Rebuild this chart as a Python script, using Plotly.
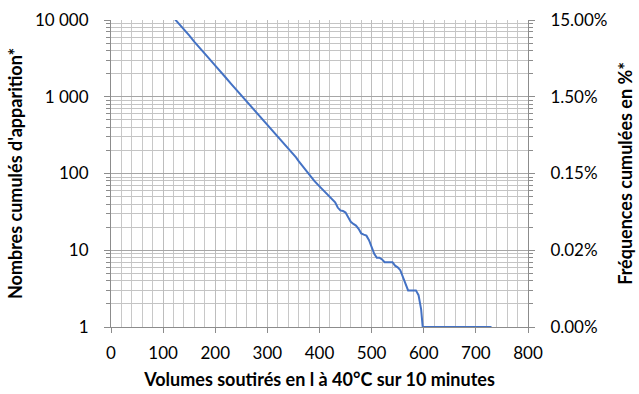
import plotly.graph_objects as go

# Cumulative occurrences vs. drawn-off volume (litres at 40°C over 10 minutes)
volumes = [110, 120, 130, 140, 150, 160, 170, 180, 190, 200, 210, 220, 230, 240,
           250, 260, 270, 280, 290, 300, 310, 320, 330, 340, 350, 355, 360, 370,
           380, 390, 400, 410, 420, 425, 430, 435, 440, 445, 450, 455, 460, 465,
           470, 475, 480, 485, 490, 495, 500, 505, 510, 515, 520, 525, 530, 535,
           540, 545, 550, 555, 560, 565, 570, 575, 580, 585, 590, 595, 598, 610,
           620, 640, 660, 680, 700, 720, 730]
occurrences = [12800, 10800, 8900, 7500, 6300, 5200, 4400, 3700, 3050, 2550, 2100,
               1780, 1480, 1240, 1040, 900, 750, 625, 520, 440, 365, 305, 255, 212,
               178, 162, 145, 118, 95, 80, 68, 58, 49, 45, 42, 36, 33, 32.5, 31,
               27, 23.5, 22, 21, 19, 16.6, 16, 15.5, 13.5, 11, 9, 8, 8, 7.6, 7, 7,
               7, 7, 6.3, 6, 5.5, 4.5, 3.5, 3, 3, 3, 3, 2.6, 1.7, 1, 1, 1, 1, 1, 1,
               1, 1, 1]

# Axis labels
x_ticks = [0, 100, 200, 300, 400, 500, 600, 700, 800]
y_ticks = [1, 10, 100, 1000, 10000]
y_ticktext = ["1", "10", "100", "1 000", "10 000"]
pct_ticktext = ["0.00%", "0.02%", "0.15%", "1.50%", "15.00%"]

minor_y = [m * d for d in (1, 10, 100, 1000) for m in range(2, 10)]

FONT = "Lato"
AXIS_COL = "#8c8c8c"
TITLE_SIZE = 18

fig = go.Figure()
fig.add_trace(go.Scatter(
    x=volumes, y=occurrences, mode="lines",
    line=dict(color="#4472C4", width=2), showlegend=False, hoverinfo="x+y",
))
# companion trace carrying the percentage axis
fig.add_trace(go.Scatter(
    x=volumes, y=occurrences, mode="lines", yaxis="y2",
    line=dict(color="rgba(0,0,0,0)", width=0), showlegend=False, hoverinfo="skip",
))

fig.update_layout(
    width=639, height=394,
    margin=dict(l=111, r=111, t=20, b=67),
    paper_bgcolor="white", plot_bgcolor="white",
    font=dict(family=FONT, color="#000000", size=17),
    xaxis=dict(
        range=[0, 800], tickvals=x_ticks, automargin=False,
        showgrid=True, gridcolor="#bdbdbd", gridwidth=1,
        minor=dict(dtick=20, showgrid=True, gridcolor="#c8c8c8", gridwidth=1, ticks=""),
        showline=True, linecolor=AXIS_COL, linewidth=1,
        ticks="outside", ticklen=5, tickcolor=AXIS_COL,
        ticklabelstandoff=6, zeroline=False,
        title=dict(text="<b>Volumes soutirés en l à 40°C sur 10 minutes</b>",
                   font=dict(size=TITLE_SIZE), standoff=10),
    ),
    yaxis=dict(
        type="log", range=[0, 4], automargin=False,
        tickvals=y_ticks, ticktext=y_ticktext,
        showgrid=True, gridcolor="#a6a6a6", gridwidth=1,
        minor=dict(tickmode="array", tickvals=minor_y, showgrid=True,
                   gridcolor="#c4c4c4", gridwidth=1, ticks="outside",
                   ticklen=4, tickcolor=AXIS_COL),
        showline=True, linecolor=AXIS_COL, linewidth=1,
        ticks="outside", ticklen=6, tickcolor=AXIS_COL,
        ticklabelstandoff=12, zeroline=False,
        title=dict(text="<b>Nombres cumulés d'apparition*</b>",
                   font=dict(size=TITLE_SIZE), standoff=7),
    ),
    yaxis2=dict(
        type="log", range=[0, 4], overlaying="y", side="right", automargin=False,
        tickvals=y_ticks, ticktext=pct_ticktext,
        showgrid=False,
        minor=dict(tickmode="array", tickvals=minor_y, showgrid=False,
                   ticks="outside", ticklen=4, tickcolor=AXIS_COL),
        showline=True, linecolor=AXIS_COL, linewidth=1,
        ticks="outside", ticklen=6, tickcolor=AXIS_COL,
        ticklabelstandoff=12, zeroline=False,
        title=dict(text="<b>Fréquences cumulées en %*</b>",
                   font=dict(size=TITLE_SIZE), standoff=12),
    ),
)

fig.write_html("out.html")
